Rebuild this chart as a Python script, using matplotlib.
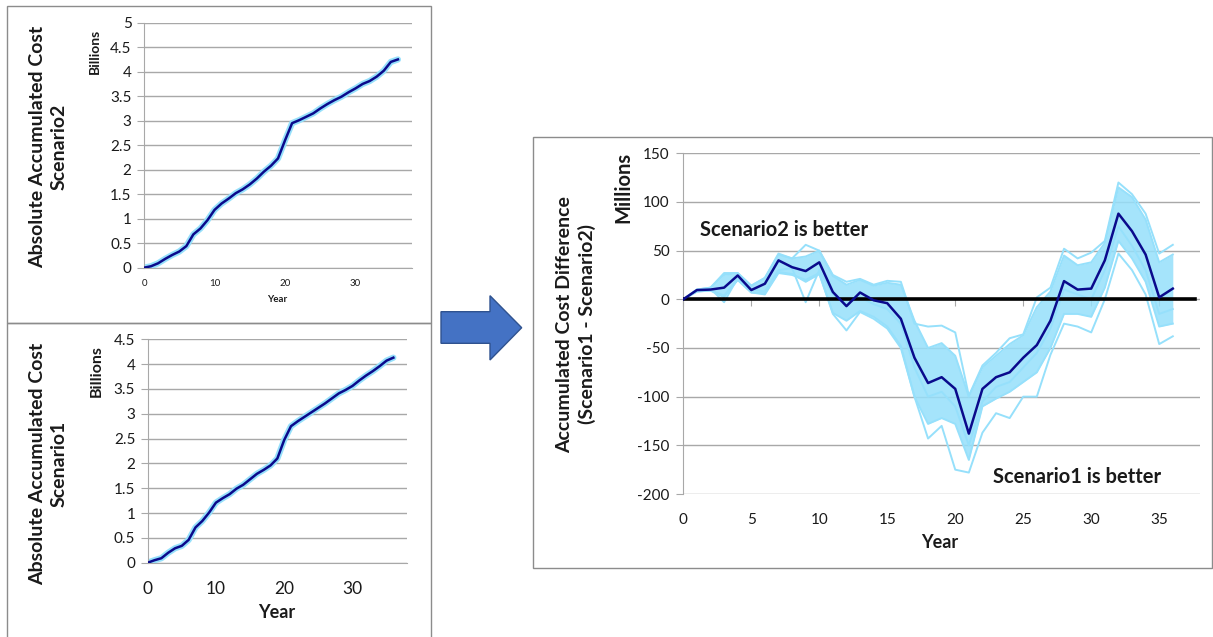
import numpy as np
import matplotlib
matplotlib.use('Agg')
import matplotlib.pyplot as plt
from matplotlib.patches import Rectangle, Polygon

plt.rcParams['font.family'] = ['Lato', 'DejaVu Sans']

# data
years = list(range(37))

# absolute accumulated cost (billions)
cost_s2 = [0, 0.03, 0.09, 0.18, 0.26, 0.33, 0.44, 0.68, 0.80, 0.97, 1.18, 1.31, 1.41,
           1.52, 1.60, 1.70, 1.82, 1.96, 2.08, 2.23, 2.60, 2.95, 3.01, 3.08, 3.15,
           3.25, 3.34, 3.42, 3.49, 3.58, 3.66, 3.75, 3.81, 3.90, 4.02, 4.20, 4.25]
cost_s1 = [0, 0.05, 0.09, 0.20, 0.29, 0.34, 0.46, 0.71, 0.84, 1.01, 1.21, 1.30, 1.38,
           1.49, 1.57, 1.68, 1.79, 1.87, 1.96, 2.10, 2.47, 2.75, 2.85, 2.94, 3.03,
           3.12, 3.21, 3.31, 3.41, 3.48, 3.56, 3.67, 3.77, 3.86, 3.96, 4.07, 4.13]

# accumulated cost difference (millions)
diff_mean = [0, 9.5, 10, 12, 24.5, 9.5, 16, 40, 33, 29, 38, 7.5, -7, 7, -1, -4, -20,
             -60, -86, -80, -92, -138, -92, -80, -75, -60, -47, -22, 18.7, 10, 11, 40,
             88, 70, 46, 2, 11]
# dense core of the simulation runs
diff_core_lo = [0, 8, 9, 4, 20, 7, 6, 28, 26, 18, 26, -14, -22, -12, -18, -28, -48,
                -100, -128, -122, -128, -165, -110, -102, -95, -85, -75, -50, -15, -15,
                -18, 12, 60, 42, 18, -28, -25]
diff_core_hi = [0, 10, 12, 25, 27, 14, 22, 46, 42, 44, 50, 24, 15, 20, 14, 17, 15,
                -22, -50, -45, -58, -100, -70, -58, -46, -37, -8, 8, 45, 35, 38, 58,
                115, 105, 82, 38, 46]
# individual runs at the edges
run_high = [0, 10, 12, 27, 27, 14, 22, 47, 42, 56, 50, 25, 18, 21, 15, 19, 18, -25,
            -28, -27, -34, -99, -68, -55, -40, -36, 2, 12, 52, 42, 48, 60, 120, 108,
            88, 47, 56]
run_low = [0, 8, 9, 2, 20, 7, 5, 27, 25, 20, 27, -15, -32, -13, -20, -30, -50, -100,
           -143, -130, -175, -178, -137, -117, -122, -100, -100, -57, -25, -28, -34,
           0, 47, 30, 5, -46, -38]
run_mid = [0, 9, 11, -3, 22, 10, 8, 30, 32, -3, 30, 5, -5, 2, -5, -10, -25, -70, -100,
           -95, -110, -150, -105, -90, -85, -70, -55, -30, 10, 5, 0, 30, 75, 55, 30,
           -15, -10]

LIGHT = '#96E0FB'
DARK = '#0A0A8C'
GRID = '#A8A8A8'
FRAME = '#8C8C8C'
TXT = '#1A1A1A'

W, H = 1213, 637
fig = plt.figure(figsize=(W / 100, H / 100), dpi=100)


def box(x0, y0, x1, y1):
    return [x0 / W, 1 - y1 / H, (x1 - x0) / W, (y1 - y0) / H]


def ftext(x, y, s, **kw):
    fig.text(x / W, 1 - y / H, s, ha='center', va='center', color=TXT, **kw)


# panel frames
for x0, y0, x1, y1 in [(6.5, 6, 430.5, 322.5), (7, 323, 430.5, 645), (533, 137, 1211.5, 568)]:
    fig.add_artist(Rectangle((x0 / W, 1 - y1 / H), (x1 - x0) / W, (y1 - y0) / H,
                             transform=fig.transFigure, fill=False, ec=FRAME, lw=1))

# arrow
arrow = [(441, 311.7), (490, 311.7), (490, 295.7), (521.7, 327.7), (490, 360),
         (490, 343.3), (441, 343.3)]
fig.add_artist(Polygon([(x / W, 1 - y / H) for x, y in arrow], closed=True,
                       transform=fig.transFigure, fc='#4472C4', ec='#2F528F', lw=1))


def left_panel(ax, cost, ymax, xfs, xpad):
    ax.plot(years, cost, color=LIGHT, lw=4.5, solid_capstyle='round', zorder=2)
    ax.plot(years, cost, color=DARK, lw=1.8, zorder=3)
    ax.set_xlim(0, 38)
    ax.set_ylim(0, ymax)
    yt = np.arange(0, ymax + 0.01, 0.5)
    ax.set_yticks(yt)
    ax.set_yticklabels([f'{v:g}' for v in yt])
    ax.set_xticks([0, 10, 20, 30])
    ax.grid(axis='y', color=GRID, lw=1)
    ax.set_axisbelow(True)
    for s in ['top', 'right']:
        ax.spines[s].set_visible(False)
    for s in ['left', 'bottom']:
        ax.spines[s].set_color(GRID)
    ax.tick_params(axis='y', length=5, color=GRID, labelsize=11, pad=4, labelcolor=TXT)
    ax.tick_params(axis='x', length=0, labelsize=xfs, pad=xpad, labelcolor=TXT)


ax1 = fig.add_axes(box(144, 22.7, 412, 267.7))
left_panel(ax1, cost_s2, 5, 7, 8)
ax2 = fig.add_axes(box(147.7, 339.3, 407, 562.7))
left_panel(ax2, cost_s1, 4.5, 12.5, 13)

ftext(48.5, 147, 'Absolute Accumulated Cost\nScenario2', rotation=90, fontsize=14,
      fontweight='bold', linespacing=1.35)
ftext(95, 51, 'Billions', rotation=90, fontsize=10, fontweight='bold')
ftext(277, 300, 'Year', fontsize=7, fontweight='bold')

ftext(48.5, 464, 'Absolute Accumulated Cost\nScenario1', rotation=90, fontsize=14,
      fontweight='bold', linespacing=1.35)
ftext(97, 371, 'Billions', rotation=90, fontsize=11.5, fontweight='bold')
ftext(277, 613, 'Year', fontsize=13, fontweight='bold')

# difference panel
ax3 = fig.add_axes(box(683.3, 153.3, 1200, 494))
ax3.fill_between(years, diff_core_lo, diff_core_hi, color=LIGHT, alpha=0.85, lw=0, zorder=2)
for run in [diff_core_lo, diff_core_hi, run_high, run_low, run_mid]:
    ax3.plot(years, run, color=LIGHT, lw=1.4, zorder=2)
ax3.axhline(0, xmax=37.6 / 38, color='black', lw=2.6, zorder=3)
ax3.plot(years, diff_mean, color=DARK, lw=1.8, zorder=4)

ax3.set_xlim(0, 38)
ax3.set_ylim(-200, 150)
yt = list(range(-200, 151, 50))
ax3.set_yticks(yt)
ax3.set_yticklabels([str(v) for v in yt])
xt = list(range(0, 36, 5))
ax3.set_xticks(xt)
ax3.grid(axis='y', color=GRID, lw=1)
ax3.set_axisbelow(True)
for s in ['top', 'right']:
    ax3.spines[s].set_visible(False)
ax3.spines['left'].set_color(GRID)
ax3.spines['bottom'].set_position(('data', 0))
ax3.spines['bottom'].set_visible(False)
ax3.tick_params(axis='x', direction='out', length=5, color=GRID, labelbottom=False)
ax3.tick_params(axis='y', length=5, color=GRID, labelsize=11, pad=5, labelcolor=TXT)

sec = ax3.secondary_xaxis('bottom')
sec.set_xticks(xt)
sec.set_xticklabels([str(v) for v in xt])
sec.tick_params(length=0, labelsize=11, pad=14, labelcolor=TXT)
sec.spines['bottom'].set_visible(False)

ftext(576, 324.5, 'Accumulated Cost Difference\n(Scenario1 - Scenario2)', rotation=90,
      fontsize=14, fontweight='bold', linespacing=1.3)
ftext(623, 187, 'Millions', rotation=90, fontsize=14.5, fontweight='bold')
ftext(940, 543, 'Year', fontsize=13, fontweight='bold')

ax3.text(1.2, 71, 'Scenario2 is better', fontsize=14.5, fontweight='bold', va='center',
         color=TXT)
ax3.text(22.8, -182.5, 'Scenario1 is better', fontsize=14.5, fontweight='bold', va='center',
         color=TXT)

fig.savefig('out.png', dpi=100)
